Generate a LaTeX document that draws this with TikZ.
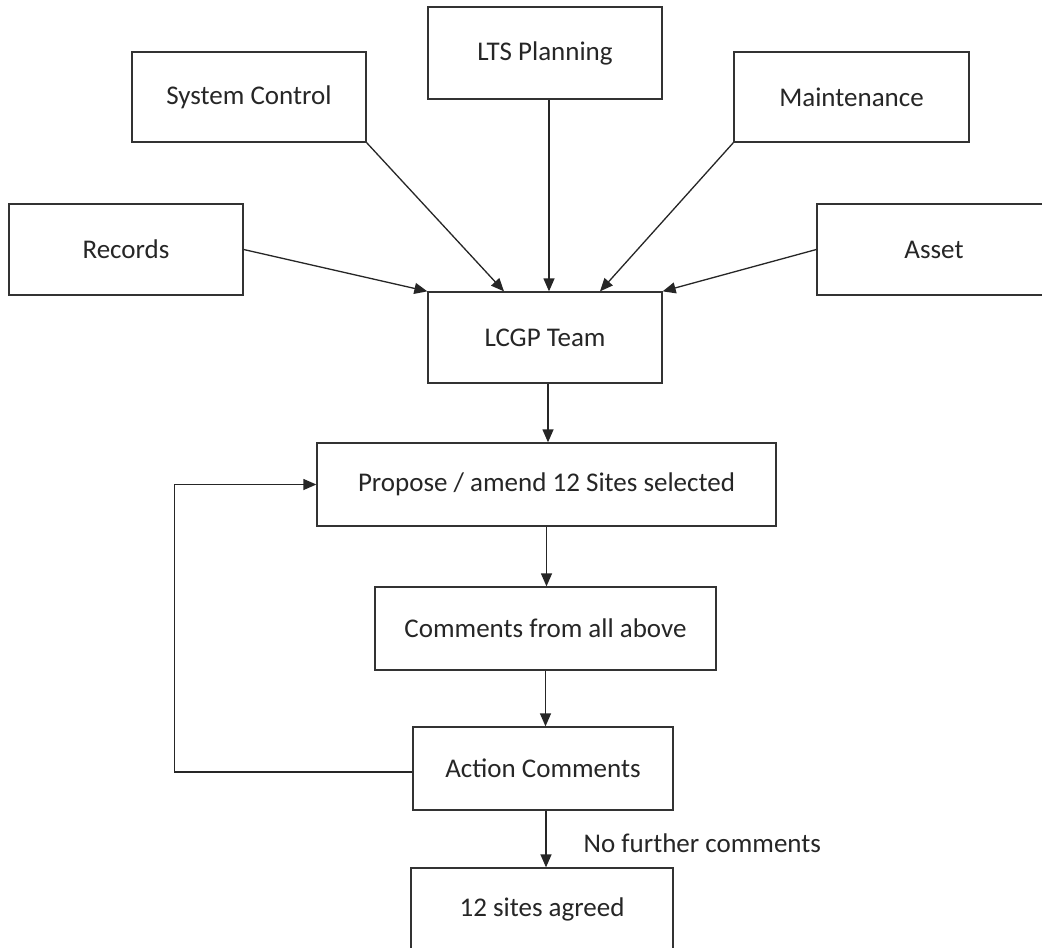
\documentclass[tikz,border=0pt]{standalone}
\usepackage{fontspec}
\setmainfont{Carlito}
\usetikzlibrary{arrows.meta,calc}
\begin{document}
\begin{tikzpicture}[x=1pt,y=-1pt,
  stepbox/.style={draw=black!80, line width=1.3pt, rectangle, inner sep=0pt,
    font=\fontsize{27pt}{32pt}\selectfont, text=black!85},
  arr/.style={draw=black!85, line width=1.3pt, -{Triangle[length=13pt,width=11pt]}},
  lab/.style={font=\fontsize{27pt}{32pt}\selectfont, text=black!85, inner sep=0pt}]
\useasboundingbox (0,0) rectangle (1042,948);
\clip (0,0) rectangle (1042,948);
\fill[white] (0,0) rectangle (1042,948);

\node[stepbox, minimum width=234pt, minimum height=92pt] (lts) at (545,53) {LTS Planning};
\node[stepbox, minimum width=234pt, minimum height=90pt] (sys) at (249,97) {System Control};
\node[stepbox, minimum width=235pt, minimum height=90pt] (mnt) at (851.5,97) {Maintenance};
\node[stepbox, minimum width=234pt, minimum height=91pt] (rec) at (126,249.5) {Records};
\node[stepbox, minimum width=234pt, minimum height=91pt] (ast) at (934,249.5) {Asset};
\node[stepbox, minimum width=234pt, minimum height=91pt] (lcgp) at (545,337.5) {LCGP Team};
\node[stepbox, minimum width=459pt, minimum height=83pt] (prop) at (546.5,484.5) {Propose / amend 12 Sites selected};
\node[stepbox, minimum width=341pt, minimum height=83pt] (com) at (545.5,628.5) {Comments from all above};
\node[stepbox, minimum width=260pt, minimum height=83pt] (act) at (543,768.5) {Action Comments};
\node[stepbox, minimum width=262pt, minimum height=83pt] (agr) at (542,909.5) {12 sites agreed};

\draw[arr] ([xshift=4pt]lts.south) -- ([xshift=4pt]lcgp.north);
\draw[arr] (sys.south east) -- ([xshift=-41pt]lcgp.north);
\draw[arr] (mnt.south west) -- ([xshift=55pt]lcgp.north);
\draw[arr] (rec.east) -- (lcgp.north west);
\draw[arr] (ast.west) -- (lcgp.north east);
\draw[arr] ([xshift=3pt]lcgp.south) -- ([xshift=3pt]lcgp.south |- prop.north);
\draw[arr] (prop.south) -- (prop.south |- com.north);
\draw[arr] (com.south) -- (com.south |- act.north);
\draw[arr] ([xshift=3pt]act.south) -- node[lab, anchor=west, xshift=37pt, yshift=-4pt] {No further comments} ([xshift=3pt]act.south |- agr.north);
\draw[arr] ([yshift=-3.5pt]act.west) -- ++(-238,0) |- (prop.west);
\end{tikzpicture}
\end{document}
